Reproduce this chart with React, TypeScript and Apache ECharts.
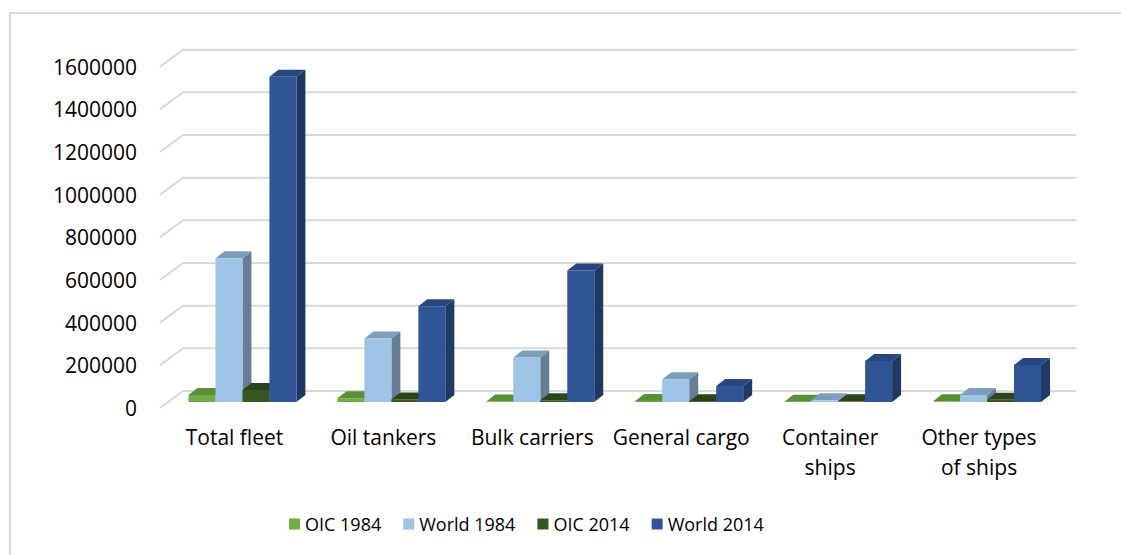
import React, { useEffect, useRef } from "react";
import * as echarts from "echarts";

const categories = ["Total fleet", "Oil tankers", "Bulk carriers", "General cargo", "Container\nships", "Other types\nof ships"];
const seriesNames = ["OIC 1984", "World 1984", "OIC 2014", "World 2014"];
const oic1984 = [33000, 18000, 2000, 5000, 1000, 3000];
const world1984 = [674000, 298000, 209000, 107000, 8000, 33000];
const oic2014 = [56000, 12000, 8000, 4000, 3000, 10000];
const world2014 = [1525000, 449000, 617000, 75000, 192000, 173000];
const yTicks = [0, 200000, 400000, 600000, 800000, 1000000, 1200000, 1400000, 1600000];

const faceColors = [
  { front: "#70AD47", top: "#5A8F37", side: "#4E7B30" },
  { front: "#9DC3E6", top: "#7E9DBB", side: "#667D95" },
  { front: "#375623", top: "#2B441B", side: "#243917" },
  { front: "#2F5597", top: "#27477E", side: "#1F3864" },
];

const FLOOR_DX = 23;
const FLOOR_DY = 17;
const PLANE_DX = 8;
const PLANE_DY = 6;
const BAR_DX = 9;
const BAR_DY = 7;

export default function App() {
  const ref = useRef<HTMLDivElement>(null);
  useEffect(() => {
    if (!ref.current) return;
    const chart = echarts.init(ref.current, null, { renderer: "svg" });
    const allValues = [oic1984, world1984, oic2014, world2014];
    const font = "'Open Sans', sans-serif";

    const barSeries = allValues.map((vals, si) => ({
      type: "custom",
      name: seriesNames[si],
      z: 3 + si,
      itemStyle: { color: faceColors[si].front },
      data: vals.map((v, i) => [i, v]),
      renderItem: (params: any, api: any) => {
        const ci = api.value(0);
        const [cx, y0] = api.coord([ci, 0]);
        const [, y1] = api.coord([ci, api.value(1)]);
        const band = api.size([1, 0])[0];
        const bw = band * 0.1812;
        const x0 = cx - bw * 2 + si * bw + PLANE_DX;
        const x1 = x0 + bw;
        const yb = y0 - PLANE_DY;
        const yt = y1 - PLANE_DY;
        const c = faceColors[si];
        return {
          type: "group",
          children: [
            {
              type: "polygon",
              shape: { points: [[x1, yb], [x1 + BAR_DX, yb - BAR_DY], [x1 + BAR_DX, yt - BAR_DY], [x1, yt]] },
              style: { fill: c.side },
            },
            {
              type: "polygon",
              shape: { points: [[x0, yt], [x0 + BAR_DX, yt - BAR_DY], [x1 + BAR_DX, yt - BAR_DY], [x1, yt]] },
              style: { fill: c.top },
            },
            {
              type: "rect",
              shape: { x: x0, y: yt, width: bw, height: Math.max(yb - yt, 0) },
              style: { fill: c.front },
            },
          ],
        };
      },
    }));

    const gridSeries = {
      type: "custom",
      name: "gridlines",
      silent: true,
      z: 1,
      data: yTicks.map((v) => [0, v]),
      renderItem: (params: any, api: any) => {
        const cs = params.coordSys;
        const [, y] = api.coord([0, api.value(1)]);
        const gx = cs.x;
        const gw = cs.width;
        const st = { stroke: "#D9D9D9", lineWidth: 2, fill: null };
        return {
          type: "group",
          children: [
            { type: "line", shape: { x1: gx, y1: y, x2: gx + FLOOR_DX, y2: y - FLOOR_DY }, style: st },
            { type: "line", shape: { x1: gx + FLOOR_DX, y1: y - FLOOR_DY, x2: gx + gw + FLOOR_DX, y2: y - FLOOR_DY }, style: st },
          ],
        };
      },
    };

    chart.setOption({
      animation: false,
      backgroundColor: "#ffffff",
      graphic: [
        {
          type: "rect",
          shape: { x: 10, y: 13, width: 1300, height: 700 },
          style: { fill: null, stroke: "#D9D9D9", lineWidth: 2 },
          silent: true,
          z: 0,
        },
      ],
      grid: { left: 160, right: 67.5, top: 66.7, bottom: 147 },
      legend: {
        data: seriesNames.map((n, i) => ({ name: n, icon: "rect", itemStyle: { color: faceColors[i].front } })),
        left: 284,
        top: 510,
        itemWidth: 11,
        itemHeight: 11,
        itemGap: 22,
        textStyle: { fontFamily: font, fontSize: 18, color: "#000" },
      },
      xAxis: {
        type: "category",
        data: categories,
        axisLine: { show: false },
        axisTick: { show: false },
        splitLine: { show: false },
        axisLabel: { fontFamily: font, fontSize: 21, lineHeight: 30, color: "#000", margin: 14, interval: 0 },
      },
      yAxis: {
        type: "value",
        min: 0,
        max: 1600000,
        interval: 200000,
        axisLine: { show: false },
        axisTick: { show: false },
        splitLine: { show: false },
        axisLabel: {
          fontFamily: font,
          fontSize: 21,
          color: "#000",
          margin: 23,
          formatter: (v: number) => {
            const idx = yTicks.indexOf(v);
            return idx >= 0 ? String(yTicks[idx]) : "";
          },
        },
      },
      series: [gridSeries, ...barSeries],
    });
    return () => chart.dispose();
  }, []);
  return <div ref={ref} style={{ position: "fixed", left: 0, top: 0, width: 1121, height: 555 }} />;
}
